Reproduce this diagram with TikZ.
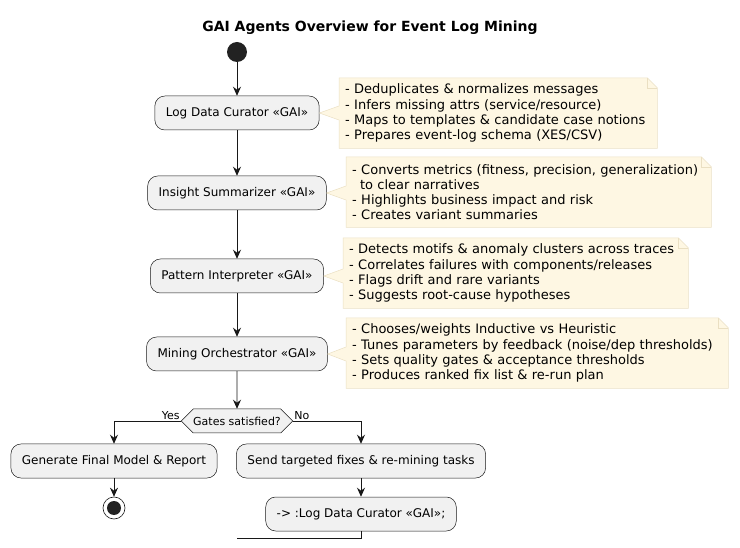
\documentclass[tikz,border=0pt]{standalone}
\usepackage{fontspec}
\setmainfont{DejaVu Sans}
\usetikzlibrary{arrows.meta,shapes.symbols,calc}
\definecolor{actfill}{HTML}{F1F1F1}
\definecolor{actline}{HTML}{181818}
\definecolor{notefill}{HTML}{FEF7E3}
\definecolor{noteline}{HTML}{EADFC2}
\definecolor{dotfill}{HTML}{222222}
\begin{document}
\begin{tikzpicture}[
    x=1pt, y=-1pt,
    act/.style={draw=actline, fill=actfill, line width=0.5pt, rounded corners=10pt,
      minimum height=34pt, inner xsep=11pt, font=\fontsize{12}{14}\selectfont},
    gate/.style={shape=signal, signal to=west and east, draw=actline, fill=actfill,
      line width=0.5pt, minimum height=24pt, inner xsep=0pt, font=\fontsize{11}{13}\selectfont},
    note/.style={fill=notefill, anchor=north west, align=left, inner xsep=6pt,
      inner ysep=4pt, minimum height=70pt, font=\fontsize{13}{15.3}\selectfont},
    flow/.style={draw=actline, line width=0.8pt, -{Stealth[length=9pt,width=8pt,inset=3pt]}},
    lab/.style={font=\fontsize{11}{13}\selectfont, inner sep=1pt}]
  \useasboundingbox (0,0) rectangle (740,548);
  \node[font=\bfseries\fontsize{14}{16}\selectfont] (title) at (370,28)
    {GAI Agents Overview for Event Log Mining};
  % agents
  \node[circle, fill=dotfill, minimum size=20pt, inner sep=0pt] (start) at (237,52) {};
  \node[act] (a1) at (237,113) {Log Data Curator «GAI»};
  \node[act] (a2) at (237,193) {Insight Summarizer «GAI»};
  \node[act] (a3) at (237,276) {Pattern Interpreter «GAI»};
  \node[act] (a4) at (237,354) {Mining Orchestrator «GAI»};
  \node[gate] (g) at (237,421) {Gates satisfied?};
  \node[act] (r5) at (114,461) {Generate Final Model \& Report};
  \node[act] (r6) at (361,461) {Send targeted fixes \& re-mining tasks};
  \node[act] (r7) at (361,514) {-> :Log Data Curator «GAI»;};
  \node[circle, draw=actline, fill=white, line width=0.6pt, minimum size=22pt, inner sep=0pt,
    path picture={\fill[dotfill] (path picture bounding box.center) circle (7pt);}] (stop) at (114,508) {};
  \coordinate (back) at (237,538);
  % notes
  \node[note, text width=306pt] (n1) at (339,78)
    {- Deduplicates \& normalizes messages\\- Infers missing attrs (service/resource)\\
     - Maps to templates \& candidate case notions\\- Prepares event-log schema (XES/CSV)};
  \node[note, text width=353pt] (n2) at (346,157)
    {- Converts metrics (fitness, precision, generalization)\\\hspace*{0.6em}to clear narratives\\
     - Highlights business impact and risk\\- Creates variant summaries};
  \node[note, text width=333pt] (n3) at (343,238)
    {- Detects motifs \& anomaly clusters across traces\\- Correlates failures with components/releases\\
     - Flags drift and rare variants\\- Suggests root-cause hypotheses};
  \node[note, text width=370pt] (n4) at (346,318)
    {- Chooses/weights Inductive vs Heuristic\\- Tunes parameters by feedback (noise/dep thresholds)\\
     - Sets quality gates \& acceptance thresholds\\- Produces ranked fix list \& re-run plan};
  \foreach \agent/\memo in {a1/n1, a2/n2, a3/n3, a4/n4} {
    \fill[white] ($(\memo.north east)+(-10,0)$) -- (\memo.north east) -- ($(\memo.north east)+(0,10)$) -- cycle;
    \fill[notefill] (\agent.east) -- ($(\memo.west |- \agent.east)+(0,-7)$) -- ($(\memo.west |- \agent.east)+(0,7)$) -- cycle;
    \draw[noteline, line width=0.5pt] (\memo.north west) -- ($(\memo.west |- \agent.east)+(0,-7)$)
      -- (\agent.east) -- ($(\memo.west |- \agent.east)+(0,7)$) -- (\memo.south west)
      -- (\memo.south east) -- ($(\memo.north east)+(0,10)$) -- ($(\memo.north east)+(-10,0)$) -- cycle;
    \draw[noteline, line width=0.5pt] ($(\memo.north east)+(-10,0)$) |- ($(\memo.north east)+(0,10)$);
  }
  % flow
  \draw[flow] (start) -- (a1);
  \draw[flow] (a1) -- (a2);
  \draw[flow] (a2) -- (a3);
  \draw[flow] (a3) -- (a4);
  \draw[flow] (a4) -- (g);
  \draw[flow] (g.west) -| (r5);
  \draw[flow] (g.east) -| (r6);
  \draw[flow] (r5) -- (stop);
  \draw[flow] (r6) -- (r7);
  \draw[actline, line width=0.8pt] (r7) |- (back);
  \node[lab, anchor=south east] at (g.west) {Yes};
  \node[lab, anchor=south west] at (g.east) {No};
\end{tikzpicture}
\end{document}
